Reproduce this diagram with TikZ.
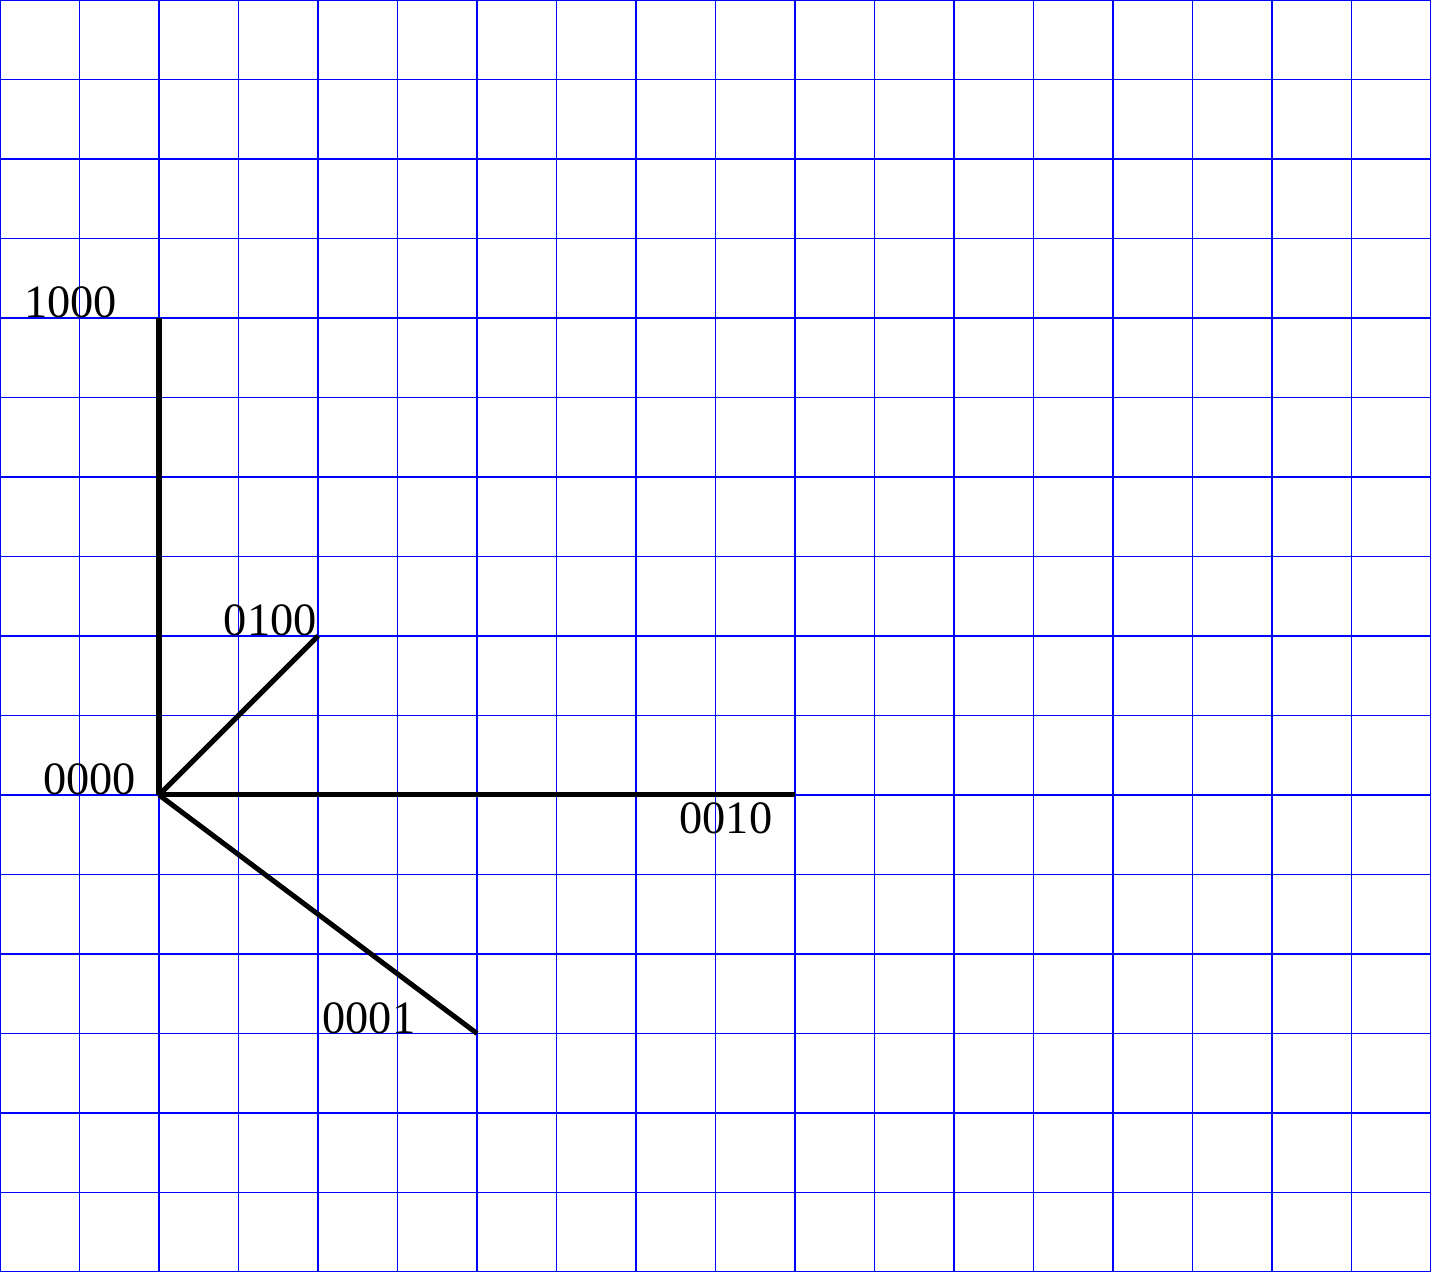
\documentclass[tikz,border=0pt]{standalone}
\usepackage{fontspec}
\setmainfont{Liberation Serif}
\begin{document}
\begin{tikzpicture}[
  gridline/.style={blue, line width=0.4pt},
  axis/.style={black, line width=1.8pt},
  lbl/.style={inner sep=0pt, font=\fontsize{16.6}{20}\selectfont}
]
\useasboundingbox (0,0) rectangle (18,16);
\draw[gridline] (0,0) grid (18,16);

% end points of the four axes
\coordinate (o) at (2,6);
\coordinate (a) at (2,12);
\coordinate (b) at (4,8);
\coordinate (c) at (10,6);
\coordinate (d) at (6,3);

\draw[axis] (o) -- (a);
\draw[axis] (o) -- (b);
\draw[axis] (o) -- (c);
\draw[axis] (o) -- (d);

% labels
\node[lbl, anchor=base east] (la) at (1.48,12) {1000};
\node[lbl, anchor=base east] (lo) at (1.72,6) {0000};
\node[lbl, anchor=base east] (lb) at (3.99,8) {0100};
\node[lbl, anchor=base west] (lc) at (8.54,5.51) {0010};
\node[lbl, anchor=base west] (ld) at (4.05,3) {0001};
\end{tikzpicture}
\end{document}
